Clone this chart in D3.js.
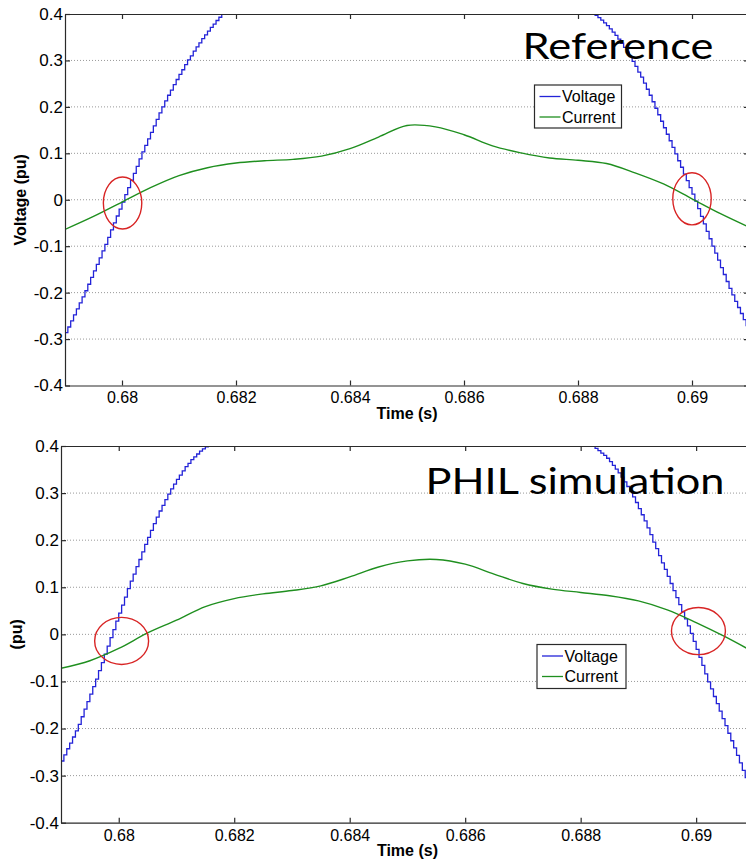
<!DOCTYPE html>
<html>
<head>
<meta charset="utf-8">
<style>
	html, body { margin: 0; padding: 0; background: #fff; }
	svg { display: block; }
	text { font-family: "Liberation Sans", Arial, sans-serif; fill: #000; }
</style>
</head>
<body>
<script src="https://cdnjs.cloudflare.com/ajax/libs/d3/7.8.5/d3.min.js"></script>
<script>
var xTicks = [0.68, 0.682, 0.684, 0.686, 0.688, 0.69];
var yTicks = [-0.4, -0.3, -0.2, -0.1, 0, 0.1, 0.2, 0.3, 0.4];
var seriesNames = ["Voltage", "Current"];

// current is read every 0.5 ms, voltage is a sample-and-hold signal, 50 us per step
var currentStart = 0.679, currentStep = 0.0005;
var voltageStep = 0.00005;

// Reference
var refVoltageRiseStart = 0.679;
var refVoltageRise = [-0.286, -0.274, -0.261, -0.248, -0.235, -0.222, -0.209, -0.196, -0.182, -0.167,
	-0.153, -0.139, -0.125, -0.110, -0.096, -0.081, -0.065, -0.050, -0.035, -0.020,
	-0.005, 0.011, 0.026, 0.042, 0.057, 0.072, 0.088, 0.103, 0.117, 0.131,
	0.145, 0.159, 0.173, 0.187, 0.200, 0.213, 0.225, 0.236, 0.248, 0.259,
	0.270, 0.280, 0.291, 0.301, 0.310, 0.320, 0.329, 0.338, 0.347, 0.355,
	0.363, 0.371, 0.378, 0.386, 0.393, 0.399, 0.406, 0.412];
var refVoltageFallStart = 0.6882;
var refVoltageFall = [0.406, 0.402, 0.397, 0.392, 0.387, 0.381, 0.375, 0.368, 0.361, 0.354,
	0.346, 0.337, 0.328, 0.318, 0.308, 0.298, 0.287, 0.275, 0.264, 0.251,
	0.238, 0.225, 0.211, 0.197, 0.183, 0.169, 0.155, 0.141, 0.127, 0.113,
	0.099, 0.084, 0.070, 0.055, 0.041, 0.026, 0.012, -0.003, -0.019, -0.036,
	-0.052, -0.068, -0.084, -0.100, -0.115, -0.130, -0.146, -0.161, -0.176, -0.191,
	-0.205, -0.219, -0.232, -0.245, -0.258, -0.271, -0.284];
var refCurrent = [-0.064, -0.036, -0.005, 0.026, 0.052, 0.069, 0.079, 0.084, 0.087, 0.094,
	0.110, 0.135, 0.160, 0.157, 0.140, 0.116, 0.101, 0.090, 0.085, 0.078,
	0.058, 0.034, 0.002, -0.030, -0.059];
var refMarks = [[0.68001, -0.007], [0.69, 0.002]];

// PHIL simulation
var philVoltageRiseStart = 0.679;
var philVoltageRise = [-0.269, -0.256, -0.243, -0.231, -0.218, -0.205, -0.191, -0.175, -0.159, -0.143,
	-0.127, -0.111, -0.095, -0.077, -0.060, -0.042, -0.025, -0.007, 0.010, 0.028,
	0.045, 0.062, 0.079, 0.097, 0.113, 0.128, 0.144, 0.159, 0.175, 0.191,
	0.206, 0.221, 0.235, 0.249, 0.262, 0.274, 0.286, 0.298, 0.309, 0.319,
	0.329, 0.338, 0.347, 0.356, 0.363, 0.371, 0.377, 0.383, 0.389, 0.394,
	0.398, 0.402, 0.406, 0.409, 0.411];
var philVoltageFallStart = 0.6881;
var philVoltageFall = [0.405, 0.402, 0.399, 0.395, 0.390, 0.385, 0.380, 0.374, 0.367, 0.359,
	0.351, 0.343, 0.334, 0.324, 0.314, 0.303, 0.292, 0.280, 0.267, 0.254,
	0.241, 0.226, 0.212, 0.196, 0.182, 0.167, 0.152, 0.138, 0.123, 0.108,
	0.093, 0.078, 0.063, 0.048, 0.033, 0.018, 0.002, -0.015, -0.032, -0.049,
	-0.066, -0.084, -0.101, -0.116, -0.132, -0.147, -0.163, -0.179, -0.194, -0.210,
	-0.226, -0.241, -0.257, -0.273, -0.289, -0.304, -0.320];
var philCurrent = [-0.072, -0.056, -0.030, 0.003, 0.030, 0.059, 0.076, 0.086, 0.093, 0.103,
	0.122, 0.143, 0.156, 0.159, 0.149, 0.128, 0.108, 0.096, 0.089, 0.082,
	0.071, 0.052, 0.025, -0.005, -0.038];
var philMarks = [[0.68005, -0.014], [0.69004, 0.007]];

var width = 746,
	height = 861,
	blue = "#2323d8",
	green = "#1f8f1f",
	frameColor = "#2a2a2a";

var svg = d3.select("body").append("svg")
	.attr("width", width)
	.attr("height", height);

var panels = [
	{
		id: "ref", title: "Reference", titleX: 522.5, titleY: 58.5, titleW: 191,
		yLabel: "Voltage (pu)", yLabelX: 26,
		left: 65, pxPerSec: 57000, top: 14, bottom: 385.5,
		rise: refVoltageRise, riseStart: refVoltageRiseStart,
		fall: refVoltageFall, fallStart: refVoltageFallStart,
		current: refCurrent, marks: refMarks, markRx: 0.000337, markRy: 0.056,
		legend: { x: 534.5, y: 85, w: 87, h: 43 }
	},
	{
		id: "phil", title: "PHIL simulation", titleX: 425.5, titleY: 494, titleW: 299,
		yLabel: "(pu)", yLabelX: 22,
		left: 61, pxPerSec: 57740, top: 446, bottom: 822.7,
		rise: philVoltageRise, riseStart: philVoltageRiseStart,
		fall: philVoltageFall, fallStart: philVoltageFallStart,
		current: philCurrent, marks: philMarks, markRx: 0.000467, markRy: 0.050,
		legend: { x: 537, y: 644.5, w: 89, h: 44 }
	}
];

function toPoints(values, start, step) {
	return values.map(function(v, i) { return [start + i * step, v]; });
}

panels.forEach(function(p) {
	var right = p.left + 0.012 * p.pxPerSec;

	var x = d3.scaleLinear().domain([0.679, 0.691]).range([p.left, right]);
	var y = d3.scaleLinear().domain([-0.4, 0.4]).range([p.bottom, p.top]);

	var g = svg.append("g");

	g.append("clipPath").attr("id", "clip-" + p.id)
		.append("rect")
		.attr("x", p.left).attr("y", p.top)
		.attr("width", right - p.left).attr("height", p.bottom - p.top);

	// dotted horizontal grid
	g.append("g").selectAll("line")
		.data(yTicks.filter(function(d) { return Math.abs(d) < 0.4; }))
		.enter().append("line")
		.attr("x1", p.left).attr("x2", right)
		.attr("y1", function(d) { return y(d); })
		.attr("y2", function(d) { return y(d); })
		.attr("stroke", "#999")
		.attr("stroke-width", 1)
		.attr("stroke-dasharray", "1,2");

	var plot = g.append("g").attr("clip-path", "url(#clip-" + p.id + ")");

	var stepLine = d3.line()
		.x(function(d) { return x(d[0]); })
		.y(function(d) { return y(d[1]); })
		.curve(d3.curveStepAfter);

	var smoothLine = d3.line()
		.x(function(d) { return x(d[0]); })
		.y(function(d) { return y(d[1]); })
		.curve(d3.curveCatmullRom.alpha(0.5));

	[toPoints(p.rise, p.riseStart, voltageStep), toPoints(p.fall, p.fallStart, voltageStep)].forEach(function(seg) {
		plot.append("path")
			.attr("d", stepLine(seg))
			.attr("fill", "none")
			.attr("stroke", blue)
			.attr("stroke-width", 1.3);
	});

	plot.append("path")
		.attr("d", smoothLine(toPoints(p.current, currentStart, currentStep)))
		.attr("fill", "none")
		.attr("stroke", green)
		.attr("stroke-width", 1.4);

	// red marks round the zero crossings
	plot.selectAll("ellipse")
		.data(p.marks)
		.enter().append("ellipse")
		.attr("cx", function(d) { return x(d[0]); })
		.attr("cy", function(d) { return y(d[1]); })
		.attr("rx", x(0.68 + p.markRx) - x(0.68))
		.attr("ry", y(0) - y(p.markRy))
		.attr("fill", "none")
		.attr("stroke", "#d82424")
		.attr("stroke-width", 1.4);

	// axes, ticks pointing inward like matlab
	var fmt = function(d) { return String(d); };

	var xAxis = g.append("g")
		.attr("transform", "translate(0," + p.bottom + ")")
		.call(d3.axisBottom(x).tickValues(xTicks).tickFormat(fmt).tickSizeInner(-5).tickSizeOuter(0).tickPadding(6.5));
	var xTop = g.append("g")
		.attr("transform", "translate(0," + p.top + ")")
		.call(d3.axisTop(x).tickValues(xTicks).tickFormat("").tickSizeInner(-5).tickSizeOuter(0));
	var yAxis = g.append("g")
		.attr("transform", "translate(" + p.left + ",0)")
		.call(d3.axisLeft(y).tickValues(yTicks).tickFormat(fmt).tickSizeInner(-5).tickSizeOuter(0).tickPadding(2));
	var yRight = g.append("g")
		.attr("transform", "translate(" + right + ",0)")
		.call(d3.axisRight(y).tickValues(yTicks).tickFormat("").tickSizeInner(-5).tickSizeOuter(0));

	[xAxis, xTop, yAxis, yRight].forEach(function(a) {
		a.selectAll("path, line").attr("stroke", frameColor).attr("stroke-width", 1.2);
	});
	xAxis.selectAll("text").style("font-size", "16px").attr("fill", "#000");
	yAxis.selectAll("text").style("font-size", "17px").attr("fill", "#000");

	g.append("text")
		.attr("x", (p.left + right) / 2)
		.attr("y", p.bottom + 33)
		.attr("text-anchor", "middle")
		.style("font-size", "16px")
		.style("font-weight", "bold")
		.text("Time (s)");

	g.append("text")
		.attr("transform", "translate(" + p.yLabelX + "," + ((p.top + p.bottom) / 2) + ") rotate(-90)")
		.attr("text-anchor", "middle")
		.style("font-size", "16px")
		.style("font-weight", "bold")
		.text(p.yLabel);

	g.append("text")
		.attr("x", p.titleX)
		.attr("y", p.titleY)
		.attr("textLength", p.titleW)
		.attr("lengthAdjust", "spacingAndGlyphs")
		.style("font-family", "Lato, 'Open Sans', sans-serif")
		.style("font-size", "37px")
		.text(p.title);

	// legend
	var lg = g.append("g").attr("transform", "translate(" + p.legend.x + "," + p.legend.y + ")");
	lg.append("rect")
		.attr("width", p.legend.w).attr("height", p.legend.h)
		.attr("fill", "#fff").attr("stroke", frameColor).attr("stroke-width", 1.2);
	seriesNames.forEach(function(name, i) {
		var ly = 11.5 + i * 20.5;
		lg.append("line")
			.attr("x1", 5).attr("x2", 26)
			.attr("y1", ly).attr("y2", ly)
			.attr("stroke", i === 0 ? blue : green)
			.attr("stroke-width", 1.3);
		lg.append("text")
			.attr("x", 27.5).attr("y", ly + 5.5)
			.style("font-size", "16px")
			.text(name);
	});
});
</script>
</body>
</html>
